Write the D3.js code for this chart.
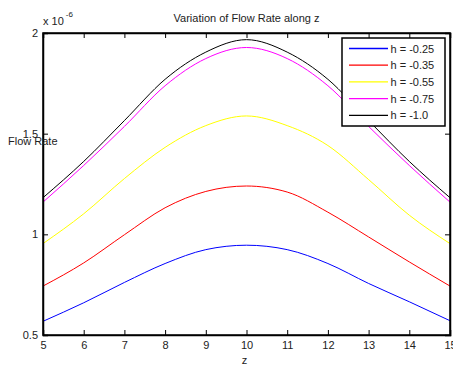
<!DOCTYPE html>
<html>
<head>
<meta charset="utf-8">
<script src="https://cdn.jsdelivr.net/npm/d3@7"></script>
<style>
  body { margin: 0; background: #fff; }
  text { font-family: 'Liberation Sans', Arial, sans-serif; fill: #222; }
</style>
</head>
<body>
<div id="chart"></div>
<script>
// values, in units of 1e-6
const zValues = [5, 6, 7, 8, 9, 10, 11, 12, 13, 14, 15]
const seriesNames = ['h = -0.25', 'h = -0.35', 'h = -0.55', 'h = -0.75', 'h = -1.0']
const seriesColors = ['#0000ff', '#ff0000', '#ffff00', '#ff00ff', '#000000']
const flowH025 = [0.568, 0.66, 0.761, 0.855, 0.924, 0.946, 0.924, 0.855, 0.756, 0.665, 0.571]
const flowH035 = [0.743, 0.858, 0.998, 1.132, 1.213, 1.24, 1.21, 1.11, 0.987, 0.863, 0.743]
const flowH055 = [0.954, 1.102, 1.277, 1.432, 1.54, 1.588, 1.54, 1.441, 1.272, 1.095, 0.954]
const flowH075 = [1.16, 1.342, 1.536, 1.738, 1.873, 1.928, 1.873, 1.738, 1.536, 1.342, 1.16]
const flowH100 = [1.182, 1.362, 1.565, 1.77, 1.905, 1.967, 1.905, 1.77, 1.565, 1.362, 1.182]
const xTicks = [5, 6, 7, 8, 9, 10, 11, 12, 13, 14, 15]
const yTicks = [0.5, 1, 1.5, 2]

const series = [flowH025, flowH035, flowH055, flowH075, flowH100]

const width = 453
const height = 365
const margin = { top: 33, right: 3, bottom: 30, left: 43 }
const innerW = width - margin.left - margin.right
const innerH = height - margin.top - margin.bottom

const svg = d3.select('#chart')
  .append('svg')
  .attr('width', width)
  .attr('height', height)
  .style('background', '#fff')

const x = d3.scaleLinear().domain([5, 15]).range([margin.left, margin.left + innerW])
const y = d3.scaleLinear().domain([0.5, 2]).range([margin.top + innerH, margin.top])

// curves
const line = d3.line()
  .x((d, i) => x(zValues[i]))
  .y(d => y(d))
  .curve(d3.curveMonotoneX)

svg.append('g')
  .selectAll('path')
  .data(series)
  .join('path')
  .attr('fill', 'none')
  .attr('stroke', (d, i) => seriesColors[i])
  .attr('stroke-width', 1)
  .attr('d', line)

// axes: ticks pointing inward on all four sides
const tickLen = 5
const axes = svg.append('g')

axes.append('g')
  .attr('transform', `translate(0,${y(0.5)})`)
  .call(d3.axisBottom(x).tickValues(xTicks).tickSize(-tickLen).tickPadding(6).tickFormat(d3.format('d')))
axes.append('g')
  .attr('transform', `translate(0,${y(2)})`)
  .call(d3.axisTop(x).tickValues(xTicks).tickSize(-tickLen).tickFormat(''))
axes.append('g')
  .attr('transform', `translate(${x(5)},0)`)
  .call(d3.axisLeft(y).tickValues(yTicks).tickSize(-tickLen).tickPadding(5).tickFormat(d3.format('')))
axes.append('g')
  .attr('transform', `translate(${x(15)},0)`)
  .call(d3.axisRight(y).tickValues(yTicks).tickSize(-tickLen).tickFormat(''))

axes.selectAll('.domain').attr('stroke', '#000').attr('stroke-width', 1.5)
axes.selectAll('.tick line').attr('stroke', '#000')
axes.selectAll('.tick text')
  .style('font-family', "'Liberation Sans', Arial, sans-serif")
  .style('font-size', '11px')
  .attr('fill', '#222')

// box frame
svg.append('rect')
  .attr('x', x(5))
  .attr('y', y(2))
  .attr('width', x(15) - x(5))
  .attr('height', y(0.5) - y(2))
  .attr('fill', 'none')
  .attr('stroke', '#000')
  .attr('stroke-width', 1.5)

// title and labels
svg.append('text')
  .attr('x', (x(5) + x(15)) / 2)
  .attr('y', 22)
  .attr('text-anchor', 'middle')
  .style('font-size', '11px')
  .text('Variation of Flow Rate along z')

const expo = svg.append('text')
  .attr('x', x(5))
  .attr('y', 25)
  .style('font-size', '11px')
expo.append('tspan').text('x 10')
expo.append('tspan').attr('dy', -8).attr('dx', 2).style('font-size', '8px').text('-6')

svg.append('text')
  .attr('x', 8)
  .attr('y', 145)
  .style('font-size', '11px')
  .text('Flow Rate')

svg.append('text')
  .attr('x', (x(5) + x(15)) / 2 - 2)
  .attr('y', 364)
  .attr('text-anchor', 'middle')
  .style('font-size', '11px')
  .text('z')

// legend
const legend = svg.append('g').attr('transform', 'translate(342,38)')
legend.append('rect')
  .attr('width', 103)
  .attr('height', 88)
  .attr('fill', '#fff')
  .attr('stroke', '#000')
  .attr('stroke-width', 1.5)

const rows = legend.selectAll('g.row')
  .data(seriesNames)
  .join('g')
  .attr('class', 'row')
  .attr('transform', (d, i) => `translate(0,${10.5 + i * 16.7})`)
rows.append('line')
  .attr('x1', 7)
  .attr('x2', 46)
  .attr('stroke', (d, i) => seriesColors[i])
  .attr('stroke-width', 1.3)
rows.append('text')
  .attr('x', 48.5)
  .attr('y', 4)
  .style('font-size', '11px')
  .text(d => d)
</script>
</body>
</html>
